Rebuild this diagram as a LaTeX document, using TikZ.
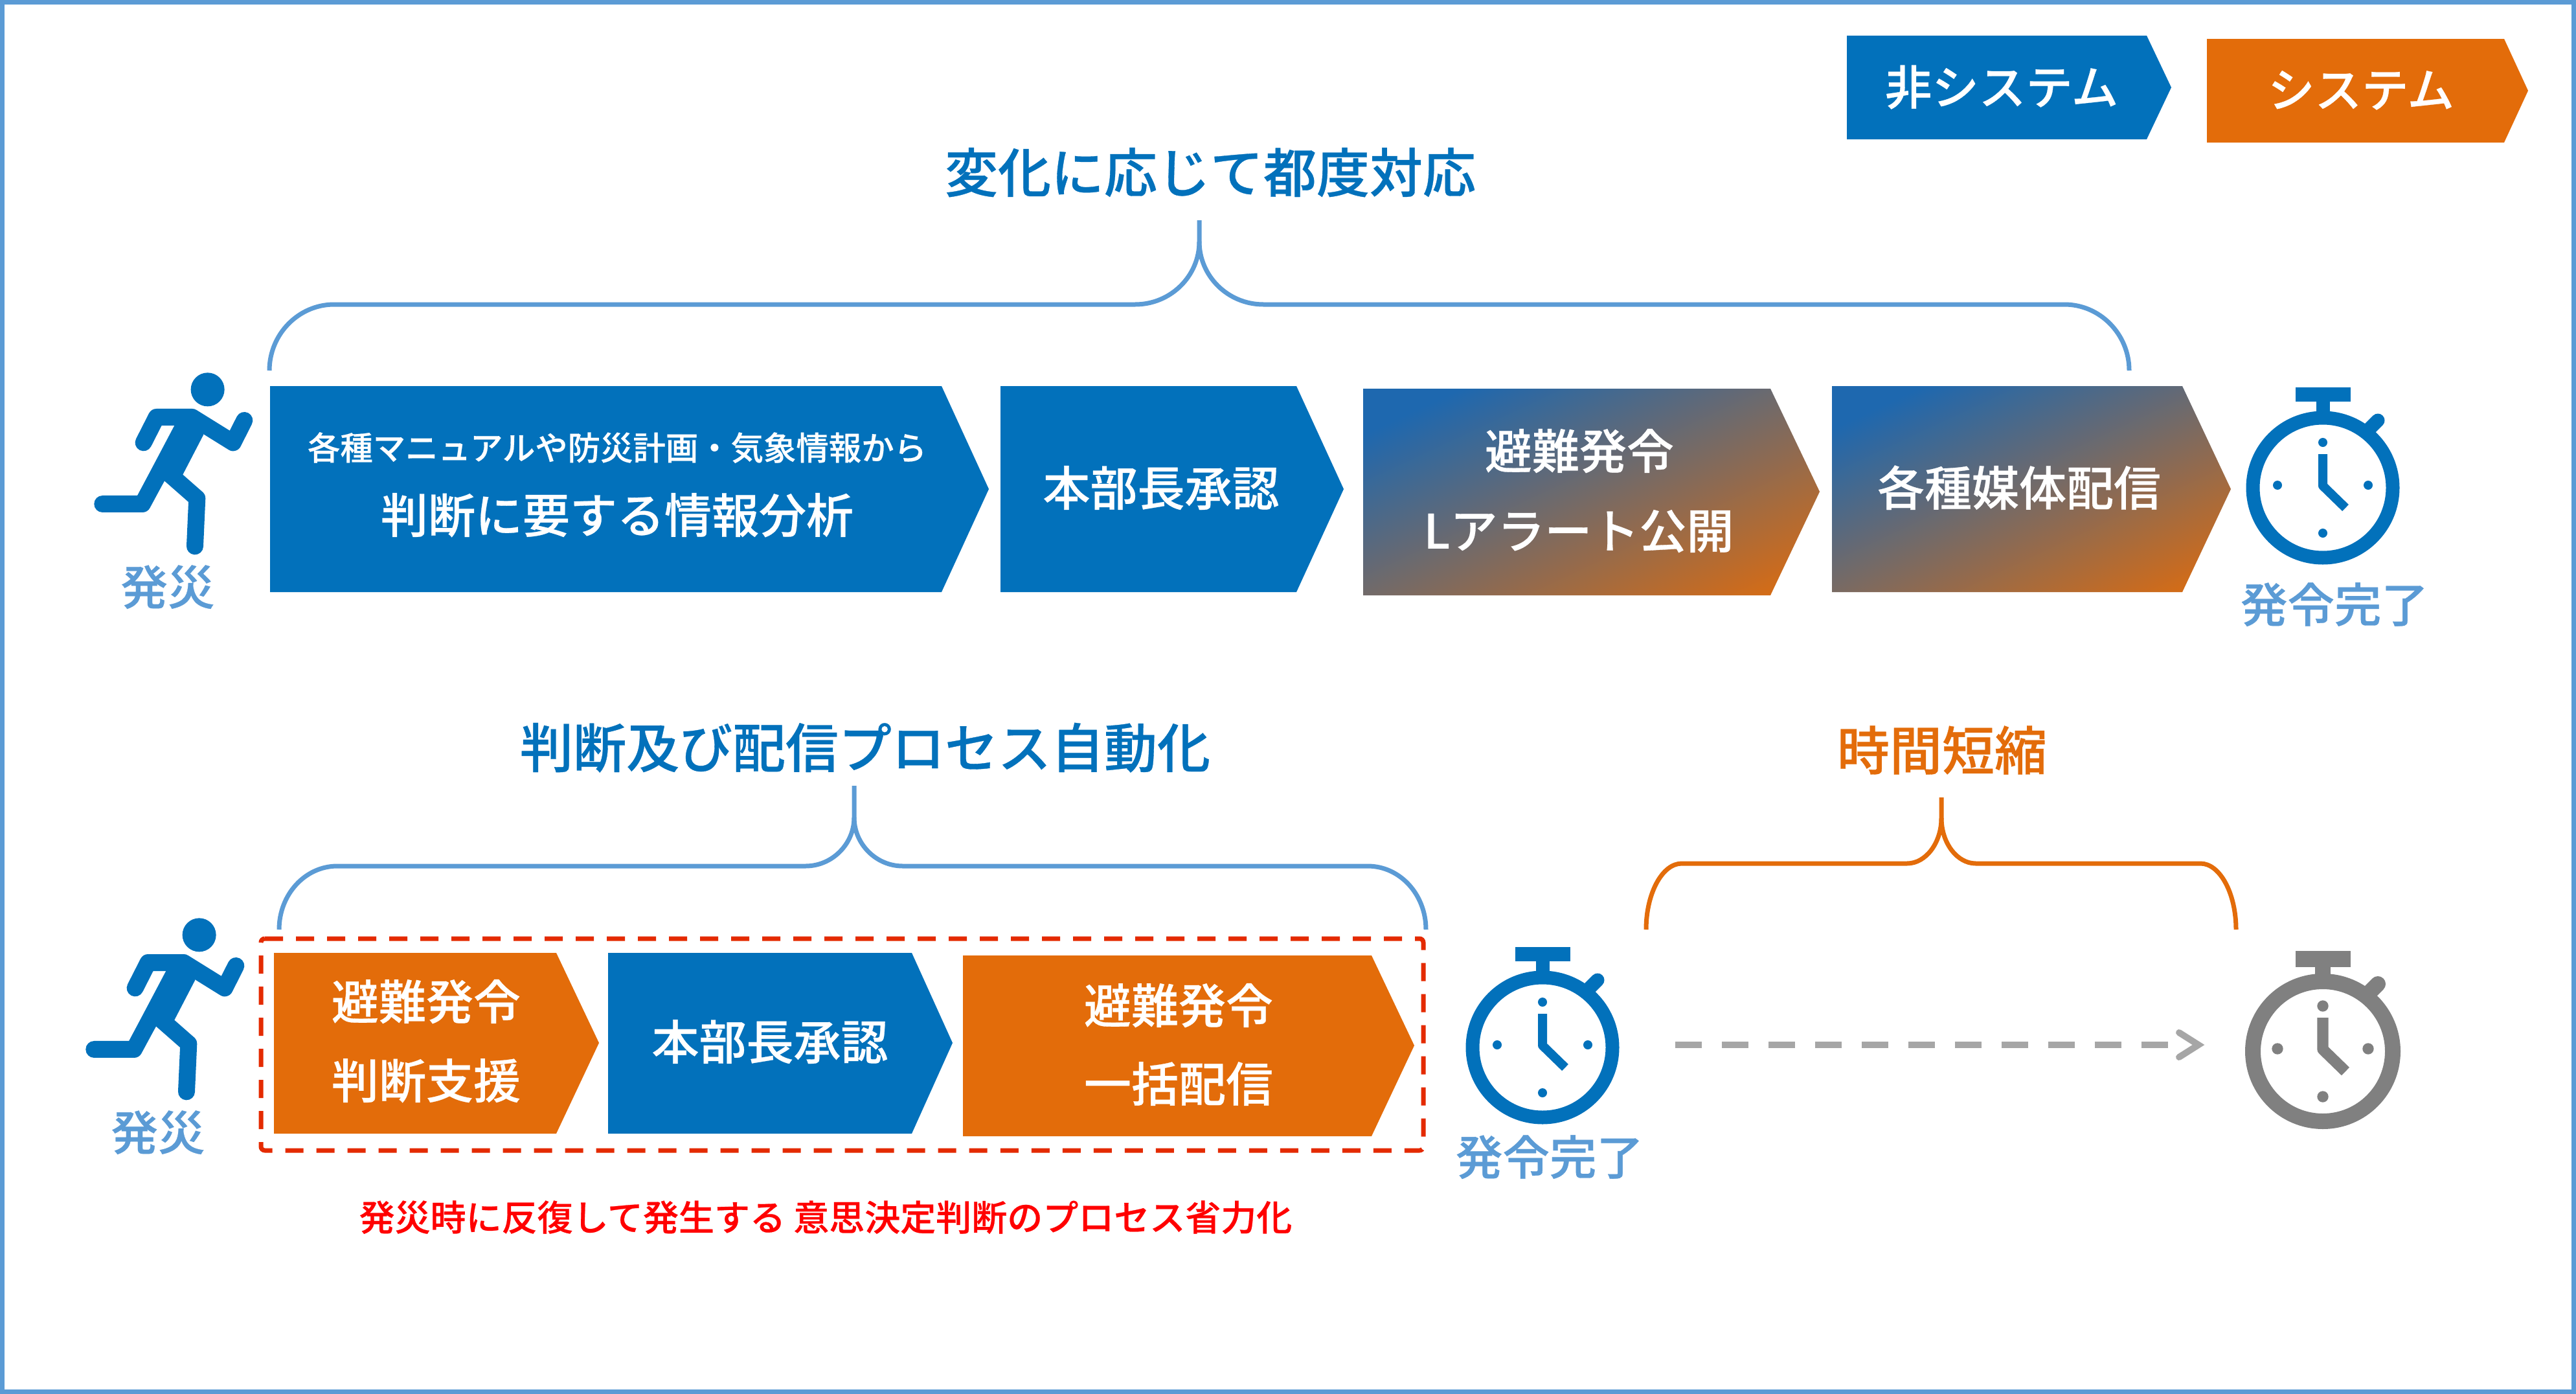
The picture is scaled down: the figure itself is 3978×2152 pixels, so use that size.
\documentclass[tikz,border=0pt]{standalone}
\usepackage{fontspec}
\setmainfont{Noto Sans CJK JP}
\newfontfamily\cjkm[FakeBold=0.4]{Noto Sans CJK JP Medium}
\definecolor{bl}{HTML}{0271BB}
\definecolor{gstart}{HTML}{1E68AF}
\definecolor{orng}{HTML}{E36C0A}
\definecolor{lblue}{HTML}{5B9BD5}
\definecolor{redd}{HTML}{E42A00}
\definecolor{darkg}{HTML}{808080}
\definecolor{lightg}{HTML}{A6A6A6}
\pgfdeclarehorizontalshading{gradx}{100bp}{color(0bp)=(gstart); color(24bp)=(gstart); color(84bp)=(orng); color(100bp)=(orng)}
\newcommand{\fsz}[1]{\fontsize{#1}{#1}\selectfont}
\tikzset{
  tx/.style={font=\cjkm\fsz{#1},text height={0.88*#1 pt},text depth={0.12*#1 pt},inner sep=0pt,align=center},
  wt/.style={tx=#1,text=white},
  iconlabel/.style={tx=72.5,text=lblue},
  grad/.style={shading=gradx,shading angle=-65},
  brc/.style={line width=7pt}
}
% stopwatch: cx, cy, colour, stroke, hand width, dot radius
\newcommand{\wch}[6]{%
\begin{scope}[shift={(#1,#2)},#3]
  \draw[line width=#4pt] (0,0) circle[radius=108];
  \fill (-42.5,-155) rectangle (42.5,{-155+#4+1});
  \fill ({-0.5*#4},-135) rectangle ({0.5*#4},-100);
  \draw[line width=#4pt,line cap=round] (70,-89) -- (85,-104);
  \draw[line width=#5pt,line join=round] (0,-52) -- (0,-3) -- (35,31);
  \fill (0,-70) circle[radius=#6];
  \fill (0,70) circle[radius=#6];
  \fill (-70,-4) circle[radius=#6];
  \fill (70,-4) circle[radius=#6];
\end{scope}}
% runner, drawn in a 3x frame
\newcommand{\rnr}[2]{%
\begin{scope}[shift={(#1,#2)},x=0.3333pt,y=-0.3333pt,bl]
  \fill (572,124) circle[radius=78];
  \draw[line width=26pt,line cap=round,line join=round] (275,370) -- (335,252) -- (500,252) -- (690,370) -- (742,267);
  \draw[line width=26pt,line cap=round,line join=round] (85,654) -- (270,654) -- (380,450);
  \draw[line width=26pt,line cap=round,line join=round] (400,520) -- (523,628) -- (513,850);
  \fill (418,260) -- (530,240) -- (553,333) -- (457,518) -- (372,547) -- (300,668) -- (247,615) -- (418,291) -- cycle;
\end{scope}}
\begin{document}
\begin{tikzpicture}[x=1pt,y=-1pt]
\useasboundingbox (0,0) rectangle (3978,2152);
\fill[white] (0,0) rectangle (3978,2152);
\draw[lblue,line width=7pt] (3.5,3.5) rectangle (3974.5,2148.5);

% legend
\fill[bl] (2852,55) -- (3315,55) -- (3353,135) -- (3315,215) -- (2852,215) -- cycle;
\node[wt=72.5] (legA) at (3091,134) {非システム};
\fill[orng] (3408,60) -- (3867,60) -- (3904,140) -- (3867,220) -- (3408,220) -- cycle;
\node[wt=72.5] (legB) at (3646,138) {システム};

% headings
\node[tx=82,text=bl] (headA) at (1869,266) {変化に応じて都度対応};
\node[tx=82,text=bl] (headB) at (1336,1154) {判断及び配信プロセス自動化};
\node[tx=81,text=orng] (headC) at (2999,1158) {時間短縮};

% braces
\draw[lblue,brc] (1852,340) -- (1852,373) .. controls (1852,426) and (1808,470) .. (1753,470) -- (516,470) .. controls (461,470) and (416,516) .. (416,572);
\draw[lblue,brc] (1852,373) .. controls (1852,426) and (1896,470) .. (1951,470) -- (3188,470) .. controls (3243,470) and (3288,516) .. (3288,572);
\draw[lblue,brc] (1319,1213) -- (1319,1262) .. controls (1319,1303) and (1285,1337) .. (1244,1337) -- (521,1337) .. controls (471,1337) and (431,1381) .. (431,1435);
\draw[lblue,brc] (1319,1262) .. controls (1319,1303) and (1353,1337) .. (1394,1337) -- (2112,1337) .. controls (2162,1337) and (2202,1381) .. (2202,1435);
\draw[orng,brc] (2998,1231) -- (2998,1263) .. controls (2998,1301) and (2974,1333) .. (2945,1333) -- (2597,1333) .. controls (2567,1333) and (2542,1379) .. (2542,1435);
\draw[orng,brc] (2998,1263) .. controls (2998,1301) and (3022,1333) .. (3051,1333) -- (3398,1333) .. controls (3428,1333) and (3453,1379) .. (3453,1435);

% row 1 chevrons
\fill[bl] (417,596) -- (1454,596) -- (1527,755) -- (1454,914) -- (417,914) -- cycle;
\node[wt=50.4] (a1) at (953,691) {各種マニュアルや防災計画・気象情報から};
\node[wt=73] (a2) at (953,795) {判断に要する情報分析};
\fill[bl] (1545,596) -- (2002,596) -- (2075,755) -- (2002,914) -- (1545,914) -- cycle;
\node[wt=73] (b1) at (1793,753) {本部長承認};
\shade[grad] (2105,600) -- (2734,600) -- (2810,759) -- (2734,919) -- (2105,919) -- cycle;
\node[wt=73] (c1) at (2439,696) {避難発令};
\node[wt=73] (c2) at (2438,819) {Lアラート公開};
\shade[grad] (2829,596) -- (3370,596) -- (3445,755) -- (3370,914) -- (2829,914) -- cycle;
\node[wt=73] (d1) at (3118,753) {各種媒体配信};

% row 2 chevrons
\draw[redd,line width=7pt,rounded corners=6pt,dash pattern=on 28pt off 20pt] (403,1449) -- (2198,1449) -- (2198,1776) -- (403,1776) -- cycle;
\fill[orng] (423,1471) -- (859,1471) -- (925,1610) -- (859,1750) -- (423,1750) -- cycle;
\node[wt=73] (e1) at (658,1546) {避難発令};
\node[wt=73] (e2) at (658,1668) {判断支援};
\fill[bl] (939,1471) -- (1408,1471) -- (1471,1610) -- (1408,1750) -- (939,1750) -- cycle;
\node[wt=73] (f1) at (1189,1608) {本部長承認};
\fill[orng] (1487,1475) -- (2118,1475) -- (2184,1614) -- (2118,1754) -- (1487,1754) -- cycle;
\node[wt=73] (g1) at (1820,1552) {避難発令};
\node[wt=73] (g2) at (1820,1673) {一括配信};

% note
\node[tx=55,text=red] (note) at (1275,1879) {発災時に反復して発生する 意思決定判断のプロセス省力化};

% runners
\rnr{130}{560}
\node[iconlabel] (runA) at (259,906) {発災};
\rnr{117}{1402}
\node[iconlabel] (runB) at (244,1748) {発災};

% watches
\wch{3587}{753}{bl}{21}{14}{7}
\node[iconlabel] (watchA) at (3605,933) {発令完了};
\wch{2382}{1617}{bl}{21}{14}{7}
\node[iconlabel] (watchB) at (2393,1786) {発令完了};
\wch{3587}{1623}{darkg}{24}{17.3}{8.7}

% dashed connector
\coordinate (dS) at (2587,1613);
\coordinate (dE) at (3350,1613);
\coordinate (tA) at (3365,1594);
\coordinate (tB) at (3395,1613);
\coordinate (tC) at (3365,1632);
\draw[lightg,line width=10pt,dash pattern=on 41pt off 31pt] (dS) -- (dE);
\draw[lightg,line width=10pt,line cap=round,miter limit=10] (tA) -- (tB) -- (tC);
\end{tikzpicture}
\end{document}
